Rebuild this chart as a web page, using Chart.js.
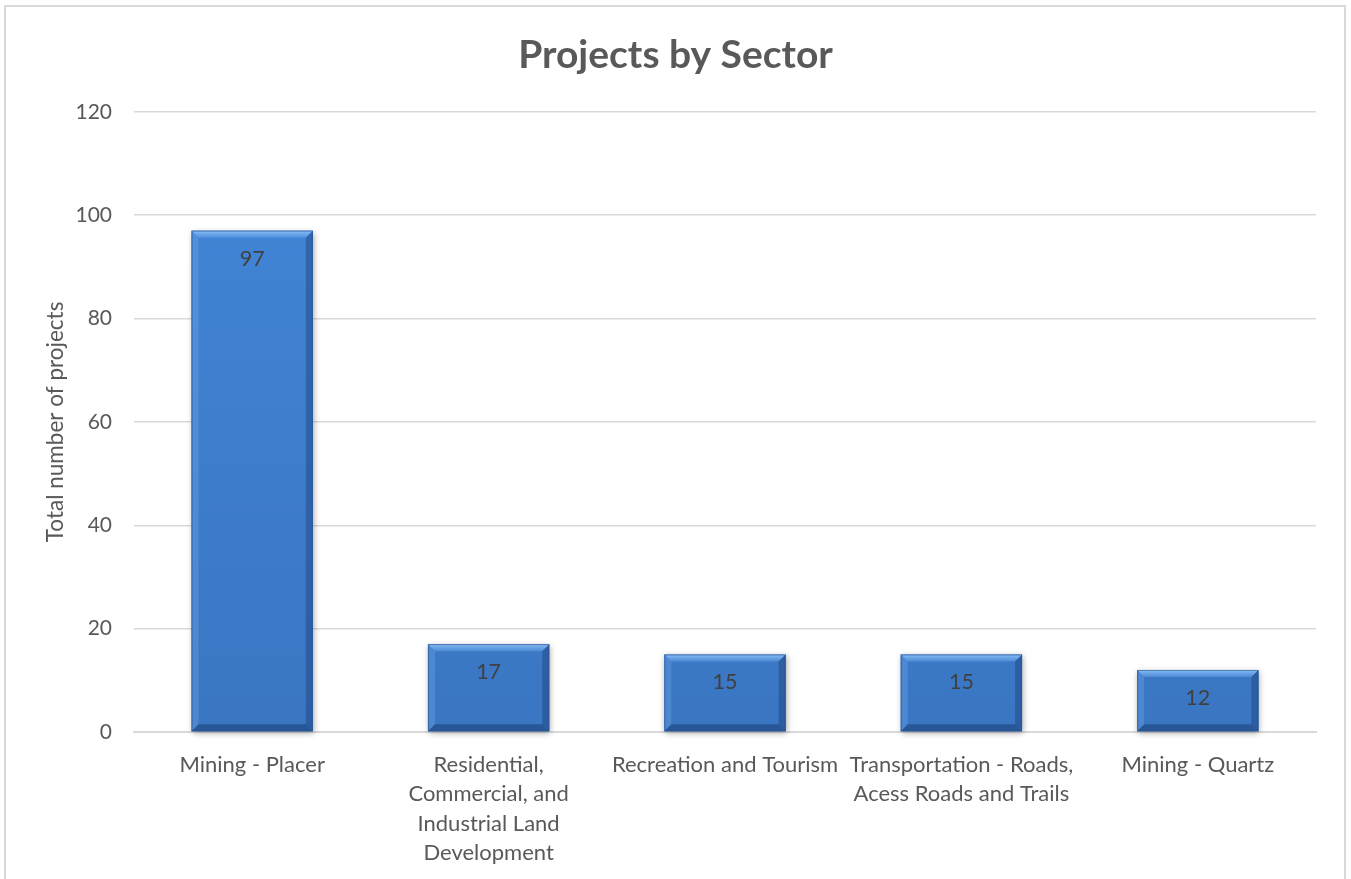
<!DOCTYPE html>
<html>
<head>
<meta charset="utf-8">
<title>Projects by Sector</title>
<script src="https://cdn.jsdelivr.net/npm/chart.js@4/dist/chart.umd.min.js"></script>
<style>
  html, body { margin: 0; padding: 0; background: #fff; }
  #wrap { position: relative; width: 1351px; height: 879px; }
</style>
</head>
<body>
<div id="wrap"><canvas id="chart"></canvas></div>
<script>
const sectors = [
  'Mining - Placer',
  ['Residential,', 'Commercial, and', 'Industrial Land', 'Development'],
  'Recreation and Tourism',
  ['Transportation - Roads,', 'Acess Roads and Trails'],
  'Mining - Quartz',
];
const projectCounts = [97, 17, 15, 15, 12];
const yTicks = [0, 20, 40, 60, 80, 100, 120];

const FONT = 'Lato, "Open Sans", sans-serif';
const TEXT = '#595959';
const GRID = '#d9d9d9';

// light frame around the whole chart
const frame = {
  id: 'frame',
  beforeDraw(chart) {
    const { ctx } = chart;
    ctx.save();
    ctx.strokeStyle = GRID;
    ctx.lineWidth = 2;
    ctx.strokeRect(5, 6, chart.width - 11, chart.height + 20);
    ctx.restore();
  },
};

// soft drop shadow under each bar
const barShadow = {
  id: 'barShadow',
  beforeDatasetsDraw(chart) {
    const { ctx } = chart;
    ctx.save();
    chart.getDatasetMeta(0).data.forEach(bar => {
      const left = bar.x - bar.width / 2;
      ctx.shadowColor = 'rgba(0,0,0,0.35)';
      ctx.shadowBlur = 6;
      ctx.shadowOffsetX = 1;
      ctx.shadowOffsetY = 2;
      ctx.fillStyle = '#3a78c6';
      ctx.fillRect(left, bar.y, bar.width, bar.base - bar.y);
    });
    ctx.restore();
  },
};

// bevelled edges + value labels
const bevel = {
  id: 'bevel',
  afterDatasetsDraw(chart) {
    const { ctx } = chart;
    const b = 7;
    const ds = chart.data.datasets[0];
    ctx.save();
    chart.getDatasetMeta(0).data.forEach((bar, i) => {
      const l = bar.x - bar.width / 2, r = bar.x + bar.width / 2;
      const t = bar.y, btm = bar.base;
      const poly = (pts, fill) => {
        ctx.beginPath();
        ctx.moveTo(pts[0][0], pts[0][1]);
        pts.slice(1).forEach(p => ctx.lineTo(p[0], p[1]));
        ctx.closePath();
        ctx.fillStyle = fill;
        ctx.fill();
      };
      // top
      const gTop = ctx.createLinearGradient(0, t, 0, t + b);
      gTop.addColorStop(0, 'rgba(150,200,255,0.9)');
      gTop.addColorStop(1, 'rgba(110,170,240,0.4)');
      poly([[l, t], [r, t], [r - b, t + b], [l + b, t + b]], gTop);
      // left
      poly([[l, t], [l + b, t + b], [l + b, btm - b], [l, btm]], 'rgba(120,175,240,0.30)');
      // right
      poly([[r, t], [r - b, t + b], [r - b, btm - b], [r, btm]], 'rgba(20,50,100,0.35)');
      // bottom
      poly([[l, btm], [l + b, btm - b], [r - b, btm - b], [r, btm]], 'rgba(20,50,100,0.45)');
      // thin outline
      ctx.strokeStyle = 'rgba(40,80,140,0.6)';
      ctx.lineWidth = 1;
      ctx.strokeRect(l + 0.5, t + 0.5, bar.width - 1, btm - t - 1);

      ctx.fillStyle = '#404040';
      ctx.font = '21.5px ' + FONT;
      ctx.textAlign = 'center';
      ctx.textBaseline = 'middle';
      ctx.fillText(String(ds.data[i]), bar.x, t + 28);
    });
    ctx.restore();
  },
};

const canvas = document.getElementById('chart');
canvas.width = 1351;
canvas.height = 879;

new Chart(canvas, {
  type: 'bar',
  data: {
    labels: sectors,
    datasets: [{
      label: 'Projects',
      data: projectCounts,
      backgroundColor: ctx => {
        const area = ctx.chart.chartArea;
        if (!area) return '#3d7dcc';
        const g = ctx.chart.ctx.createLinearGradient(0, area.top, 0, area.bottom);
        g.addColorStop(0, '#4286d8');
        g.addColorStop(1, '#3a76c2');
        return g;
      },
      borderWidth: 0,
      categoryPercentage: 1,
      barPercentage: 0.513,
    }],
  },
  options: {
    responsive: false,
    animation: false,
    // equal side padding keeps the title centred on the page
    layout: { padding: { left: 35, right: 35, top: 0, bottom: 0 } },
    plugins: {
      legend: { display: false },
      tooltip: { enabled: false },
      title: {
        display: true,
        text: 'Projects by Sector',
        color: TEXT,
        font: { family: FONT, size: 39, weight: 'bold' },
        padding: { top: 32, bottom: 33 },
      },
    },
    scales: {
      x: {
        grid: { display: false },
        border: { display: true, color: GRID, width: 2 },
        ticks: {
          color: TEXT,
          font: { family: FONT, size: 22, lineHeight: 1.34 },
          padding: 10,
          maxRotation: 0,
          autoSkip: false,
        },
        afterFit: scale => { scale.height = 147; },
      },
      y: {
        min: 0,
        max: 120,
        afterBuildTicks: scale => { scale.ticks = yTicks.map(v => ({ value: v })); },
        grid: { color: GRID, lineWidth: 1.5, drawTicks: false },
        border: { display: false },
        ticks: {
          color: TEXT,
          font: { family: FONT, size: 21 },
          padding: 22,
        },
        title: {
          display: true,
          text: 'Total number of projects',
          color: TEXT,
          font: { family: FONT, size: 22.5 },
          padding: { top: 7, bottom: 0 },
        },
        afterFit: scale => { scale.width = 99; },
      },
    },
  },
  plugins: [frame, barShadow, bevel],
});
</script>
</body>
</html>
